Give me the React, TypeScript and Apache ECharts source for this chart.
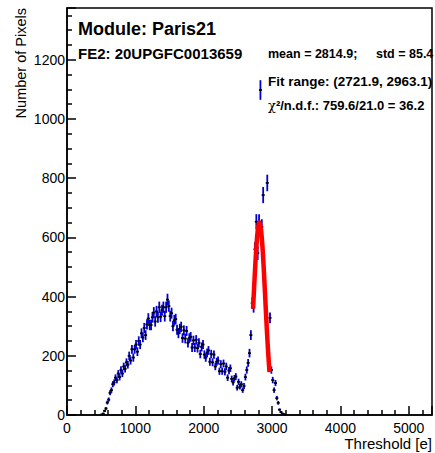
import React, { useEffect, useRef } from "react";
import * as echarts from "echarts";

// Histogram: bins of 20 e starting at 500 e
const binStart = 500;
const binWidth = 20;
const counts = [
  2, 5, 14, 22, 42, 52, 75, 84, 104, 110,
  126, 118, 140, 128, 152, 140, 164, 156, 178, 170,
  200, 184, 222, 194, 222, 238, 214, 250, 238, 276,
  262, 294, 270, 306, 326, 304, 304, 330, 346, 316,
  350, 330, 364, 332, 354, 364, 334, 364, 390, 368,
  334, 344, 300, 320, 324, 288, 276, 291, 298, 260,
  286, 258, 284, 244, 260, 264, 228, 252, 228, 254,
  226, 244, 206, 230, 238, 204, 194, 210, 218, 180,
  206, 178, 204, 164, 180, 184, 148, 172, 148, 174,
  146, 164, 126, 150, 158, 122, 110, 124, 130, 92,
  112, 96, 104, 84, 98, 128, 152, 176, 209, 270,
  378, 365, 560, 653, 547, 653, 1098, 636, 743, 433,
  345, 784, 192, 328, 152, 118, 84, 108, 57, 41,
  18, 10, 5, 3, 1,
];

// Gaussian fit curve
const fitX = [2722, 2740, 2760, 2780, 2800, 2815, 2830, 2850, 2870, 2890, 2910, 2930, 2950, 2963];
const fitY = [359, 442, 528, 598, 640, 650, 640, 598, 528, 442, 350, 262, 186, 145];

const xMax = 5340;
const yMax = 1375;

const FONT = "'Liberation Sans', Arial, Helvetica, sans-serif";

export default function App() {
  const ref = useRef<HTMLDivElement>(null);
  useEffect(() => {
    if (!ref.current) return;
    const chart = echarts.init(ref.current, undefined, { renderer: "svg" });
    const histData = counts
      .map((v, i) => [binStart + binWidth * (i + 0.5), v])
      .filter((d) => d[1] > 0);
    const fitData = fitX.map((x, i) => [x, fitY[i]]);
    chart.setOption({
      animation: false,
      backgroundColor: "#fff",
      grid: {
        left: 67,
        top: 8,
        right: 3,
        bottom: 38,
        show: true,
        borderColor: "#000",
        borderWidth: 1.5,
        backgroundColor: "transparent",
      },
      xAxis: {
        type: "value",
        min: 0,
        max: xMax,
        interval: 1000,
        splitLine: { show: false },
        axisLine: { lineStyle: { color: "#000", width: 1.5 } },
        axisTick: { inside: true, length: 9, lineStyle: { color: "#000", width: 1.5 } },
        minorTick: { show: true, splitNumber: 5, length: 5, lineStyle: { color: "#000", width: 1.5 } },
        minorSplitLine: { show: false },
        axisLabel: {
          color: "#000",
          fontSize: 14,
          fontFamily: FONT,
          margin: 6,
          showMaxLabel: false,
          formatter: (v: number) => String(v),
        },
      },
      yAxis: {
        type: "value",
        min: 0,
        max: yMax,
        interval: 200,
        splitLine: { show: false },
        axisLine: { show: true, lineStyle: { color: "#000", width: 1.5 } },
        axisTick: { show: true, inside: true, length: 9, lineStyle: { color: "#000", width: 1.5 } },
        minorTick: { show: true, splitNumber: 4, length: 5, lineStyle: { color: "#000", width: 1.5 } },
        minorSplitLine: { show: false },
        axisLabel: {
          color: "#000",
          fontSize: 14,
          fontFamily: FONT,
          margin: 2,
          showMaxLabel: false,
          formatter: (v: number) => String(v),
        },
      },
      series: [
        {
          type: "custom",
          data: histData,
          renderItem: (params: any, api: any) => {
            const x = api.value(0);
            const y = api.value(1);
            const e = Math.sqrt(y);
            const top = api.coord([x, y + e]);
            const bot = api.coord([x, Math.max(0, y - e)]);
            const c = api.coord([x, y]);
            return {
              type: "group",
              children: [
                {
                  type: "line",
                  shape: { x1: top[0], y1: top[1], x2: bot[0], y2: bot[1] },
                  style: { stroke: "#0000d0", lineWidth: 1.8 },
                },
                {
                  type: "rect",
                  shape: { x: c[0] - 1.5, y: c[1] - 0.9, width: 3, height: 1.8 },
                  style: { fill: "#000" },
                },
              ],
            };
          },
          z: 2,
        },
        {
          type: "line",
          data: fitData,
          smooth: true,
          showSymbol: false,
          lineStyle: { color: "#ff0000", width: 4.5 },
          z: 3,
        },
      ],
      graphic: [
        {
          type: "text",
          x: 78,
          y: 29,
          style: { text: "Module: Paris21", font: `bold 18px ${FONT}`, fill: "#000", align: "left", verticalAlign: "middle" },
        },
        {
          type: "text",
          x: 78,
          y: 53,
          style: { text: "FE2: 20UPGFC0013659", font: `bold 15px ${FONT}`, fill: "#000", align: "left", verticalAlign: "middle" },
        },
        {
          type: "text",
          x: 268,
          y: 54,
          style: { text: "mean = 2814.9;", font: `bold 12.5px ${FONT}`, fill: "#000", align: "left", verticalAlign: "middle" },
        },
        {
          type: "text",
          x: 376,
          y: 54,
          style: { text: "std = 85.4", font: `bold 12.5px ${FONT}`, fill: "#000", align: "left", verticalAlign: "middle" },
        },
        {
          type: "text",
          x: 268,
          y: 81,
          style: { text: "Fit range: (2721.9, 2963.1)", font: `bold 13.5px ${FONT}`, fill: "#000", align: "left", verticalAlign: "middle" },
        },
        {
          type: "text",
          x: 268,
          y: 105,
          style: {
            text: "{c|χ}{b|²/n.d.f.: 759.6/21.0 = 36.2}",
            fill: "#000",
            align: "left",
            verticalAlign: "middle",
            rich: {
              c: { font: `13px 'DejaVu Serif', serif`, fill: "#000" },
              b: { font: `bold 13px ${FONT}`, fill: "#000" },
            },
          },
        },
        {
          type: "text",
          x: 432,
          y: 443,
          style: { text: "Threshold [e]", font: `15px ${FONT}`, fill: "#000", align: "right", verticalAlign: "middle" },
        },
        {
          type: "text",
          x: 21,
          y: 8,
          rotation: Math.PI / 2,
          style: { text: "Number of Pixels", font: `14.5px ${FONT}`, fill: "#000", align: "right", verticalAlign: "middle" },
        },
      ],
    });
    return () => chart.dispose();
  }, []);
  return (
    <div
      ref={ref}
      style={{ position: "fixed", left: 0, top: 0, width: 435, height: 453, background: "#fff" }}
    />
  );
}
